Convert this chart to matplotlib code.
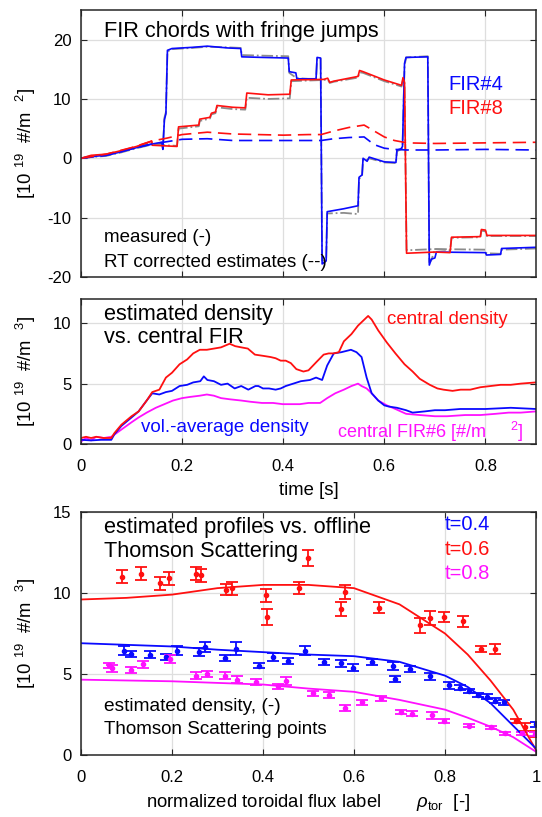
import matplotlib.pyplot as plt

plt.rcParams['font.family'] = ['Liberation Sans', 'DejaVu Sans']
plt.rcParams['mathtext.fontset'] = 'custom'
plt.rcParams['mathtext.rm'] = 'Liberation Sans'
plt.rcParams['mathtext.it'] = 'Liberation Sans:italic'
plt.rcParams['axes.unicode_minus'] = False

BLUE = '#0a0aff'
RED = '#ff1010'
MAG = '#ff10ff'
GRAY = '#8c8c8c'

# ---- panel 1: FIR chords with fringe jumps ----
fir4_t = [0.000, 0.020, 0.050, 0.080, 0.110, 0.140, 0.160, 0.162, 0.165, 0.168,
          0.171, 0.180, 0.220, 0.250, 0.290, 0.316, 0.318, 0.360, 0.410, 0.412,
          0.425, 0.427, 0.465, 0.467, 0.474, 0.477, 0.485, 0.487, 0.520, 0.548,
          0.550, 0.556, 0.558, 0.566, 0.570, 0.600, 0.623, 0.625, 0.633, 0.636,
          0.640, 0.643, 0.686, 0.689, 0.693, 0.700, 0.703, 0.800, 0.802, 0.830,
          0.832, 0.900]
fir4_meas = [0.0, 0.3, 0.5, 1.1, 1.8, 2.4, 2.7, 1.5, 6.5, 7.5,
             18.2, 18.5, 18.7, 18.9, 18.6, 18.5, 17.1, 17.0, 16.9, 14.6,
             14.4, 13.4, 13.4, 17.0, 16.9, -17.8, -17.3, -9.0, -8.5, -8.0,
             -3.2, -2.8, 0.0, -0.5, 0.2, -0.6, -0.7, 1.4, 1.6, 2.0,
             16.0, 17.0, 17.1, -18.0, -17.0, -16.8, -15.8, -15.9, -16.3, -16.2,
             -15.2, -15.0]
fir4_alt = [0.0, 0.2, 0.4, 1.0, 1.7, 2.3, 2.6, 1.6, 6.8, 7.8,
            18.0, 18.4, 18.6, 18.8, 18.7, 18.6, 17.4, 17.3, 17.2, 14.4,
            13.6, 13.5, 13.3, 16.8, 16.8, -17.5, -17.0, -9.3, -9.2, -9.4,
            -3.5, -3.0, -0.2, -0.3, 0.0, -0.7, -0.8, 1.2, 1.5, 1.8,
            15.5, 17.0, 17.2, -17.5, -17.2, -15.3, -15.3, -15.4, -16.0, -16.1,
            -15.4, -15.2]

fir8_t = [0.000, 0.020, 0.050, 0.080, 0.110, 0.140, 0.141, 0.190, 0.193, 0.233,
          0.235, 0.255, 0.258, 0.266, 0.269, 0.300, 0.325, 0.328, 0.370, 0.413,
          0.416, 0.480, 0.488, 0.492, 0.500, 0.548, 0.551, 0.558, 0.600, 0.634,
          0.637, 0.640, 0.644, 0.700, 0.730, 0.733, 0.790, 0.792, 0.800, 0.803,
          0.900]
fir8_meas = [0.0, 0.5, 0.7, 1.3, 2.0, 2.9, 2.2, 2.0, 5.3, 5.6,
             6.6, 6.9, 7.6, 7.8, 8.9, 8.6, 8.5, 11.0, 10.7, 10.8,
             13.2, 13.3, 13.5, 12.8, 13.0, 13.8, 14.8, 14.6, 13.2, 12.3,
             13.6, 12.8, -16.0, -15.8, -15.9, -13.3, -13.2, -12.0, -12.1, -13.0,
             -13.0]
fir8_alt = [0.0, 0.4, 0.6, 1.2, 1.9, 2.7, 2.3, 2.1, 5.0, 5.4,
            6.3, 6.7, 7.4, 7.6, 8.6, 8.3, 8.2, 10.2, 10.0, 10.1,
            13.0, 13.2, 13.3, 12.7, 12.9, 13.6, 14.5, 14.4, 13.0, 12.1,
            13.2, 12.6, -15.5, -15.3, -15.5, -13.4, -13.3, -12.2, -12.3, -13.1,
            -13.1]

corr_t = [0.0, 0.05, 0.1, 0.14, 0.17, 0.2, 0.25, 0.3, 0.35, 0.4, 0.45,
          0.475, 0.5, 0.53, 0.56, 0.58, 0.6, 0.62, 0.645, 0.7, 0.8, 0.9]
fir4_corr = [0.0, 0.5, 1.6, 2.4, 2.8, 3.2, 3.3, 3.0, 3.0, 3.0, 3.0,
             3.0, 3.3, 3.5, 3.6, 2.3, 1.7, 1.5, 1.4, 1.4, 1.5, 1.4]
fir8_corr = [0.0, 0.7, 1.8, 2.9, 3.4, 4.0, 4.4, 4.1, 4.0, 3.9, 4.0,
             4.0, 4.6, 5.2, 5.6, 4.6, 3.6, 3.0, 2.6, 2.5, 2.6, 2.7]

# ---- panel 2: estimated density vs central FIR ----
ne0_t = [0, 0.01, 0.02, 0.03, 0.045, 0.06, 0.066, 0.08, 0.1, 0.114,
         0.13, 0.141, 0.155, 0.168, 0.18, 0.195, 0.21, 0.222, 0.235, 0.249,
         0.263, 0.277, 0.294, 0.305, 0.317, 0.33, 0.344, 0.36, 0.375, 0.385,
         0.395, 0.405, 0.415, 0.426, 0.44, 0.45, 0.466, 0.48, 0.49, 0.5,
         0.51, 0.52, 0.535, 0.548, 0.558, 0.568, 0.575, 0.588, 0.605, 0.622,
         0.64, 0.656, 0.67, 0.69, 0.705, 0.717, 0.735, 0.751, 0.77, 0.79,
         0.81, 0.83, 0.85, 0.87, 0.9]
ne0 = [0.5, 0.6, 0.5, 0.6, 0.5, 0.5, 0.9, 1.6, 2.3, 2.7,
       3.6, 4.3, 4.5, 5.5, 5.9, 6.6, 7.0, 7.5, 7.8, 7.8,
       7.9, 8.0, 8.3, 8.1, 8.0, 7.9, 7.4, 7.3, 7.2, 7.1,
       6.9, 6.9, 6.7, 6.2, 6.0, 6.1, 6.8, 7.4, 7.5, 7.5,
       7.6, 8.5, 9.1, 9.8, 10.2, 10.6, 10.3, 9.4, 8.4, 7.5,
       6.6, 6.0, 5.4, 4.9, 4.6, 4.5, 4.4, 4.5, 4.5, 4.7,
       4.8, 4.9, 4.9, 5.0, 5.1]

nav_t = [0, 0.02, 0.04, 0.06, 0.066, 0.08, 0.1, 0.114, 0.13, 0.141,
         0.155, 0.168, 0.18, 0.195, 0.21, 0.222, 0.236, 0.243, 0.25, 0.263,
         0.277, 0.29, 0.304, 0.317, 0.331, 0.345, 0.351, 0.36, 0.372, 0.385,
         0.395, 0.405, 0.42, 0.435, 0.453, 0.465, 0.477, 0.487, 0.5, 0.515,
         0.534, 0.545, 0.555, 0.565, 0.575, 0.588, 0.6, 0.609, 0.625, 0.643,
         0.656, 0.68, 0.7, 0.72, 0.75, 0.8, 0.85, 0.9]
nav = [0.35, 0.3, 0.35, 0.35, 0.8, 1.5, 2.2, 2.7, 3.6, 4.2,
       4.1, 4.3, 4.4, 4.8, 4.9, 5.1, 5.2, 5.6, 5.3, 5.2,
       4.9, 5.0, 4.6, 4.8, 4.5, 4.8, 4.8, 4.6, 4.6, 4.5,
       4.6, 4.8, 5.0, 5.2, 5.3, 5.5, 5.3, 6.5, 7.5, 7.6,
       7.8, 7.6, 7.2, 5.5, 4.2, 3.6, 3.2, 3.1, 3.0, 2.8,
       2.6, 2.7, 2.8, 2.8, 2.9, 2.9, 3.0, 2.9]

fir6_t = [0, 0.01, 0.02, 0.03, 0.045, 0.06, 0.08, 0.1, 0.114, 0.13,
          0.148, 0.165, 0.182, 0.2, 0.216, 0.235, 0.249, 0.263, 0.277, 0.295,
          0.317, 0.335, 0.358, 0.38, 0.399, 0.415, 0.433, 0.45, 0.473, 0.487,
          0.503, 0.52, 0.535, 0.548, 0.555, 0.565, 0.575, 0.588, 0.605, 0.622,
          0.643, 0.67, 0.7, 0.724, 0.76, 0.79, 0.82, 0.846, 0.87, 0.9]
fir6 = [0.2, 0.5, 0.3, 0.6, 0.5, 0.6, 1.2, 1.8, 2.2, 2.6,
        3.0, 3.3, 3.6, 3.8, 3.9, 4.0, 4.1, 4.0, 3.8, 3.7,
        3.6, 3.5, 3.4, 3.4, 3.3, 3.3, 3.3, 3.4, 3.4, 3.8,
        4.2, 4.5, 4.8, 5.0, 4.8, 4.6, 4.2, 3.6, 3.2, 2.9,
        2.5, 2.4, 2.3, 2.3, 2.4, 2.4, 2.5, 2.6, 2.6, 2.7]

# ---- panel 3: profiles vs Thomson scattering ----
rho = [0.0, 0.1, 0.2, 0.3, 0.4, 0.5, 0.6, 0.7, 0.8, 0.85, 0.9, 0.95, 1.0]
prof_04 = [6.9, 6.8, 6.7, 6.5, 6.35, 6.2, 6.1, 5.75, 4.9, 4.2, 3.2, 1.8, 0.4]
prof_06 = [9.6, 9.7, 9.9, 10.3, 10.5, 10.5, 10.3, 9.3, 7.5, 6.2, 4.6, 2.8, 0.3]
prof_08 = [4.65, 4.6, 4.55, 4.45, 4.35, 4.1, 3.9, 3.4, 2.8, 2.3, 1.75, 1.1, 0.2]

ts04_rho = [0.095, 0.109, 0.152, 0.187, 0.212, 0.259, 0.272, 0.316, 0.34, 0.392,
            0.422, 0.454, 0.492, 0.534, 0.571, 0.597, 0.639, 0.686, 0.69, 0.723,
            0.766, 0.808, 0.834, 0.853, 0.872, 0.893, 0.91, 0.93, 1.0]
ts04 = [6.45, 6.25, 6.2, 6.05, 6.45, 6.35, 6.65, 6.0, 6.55, 5.5,
        6.05, 5.8, 6.45, 5.75, 5.65, 5.4, 5.75, 5.5, 4.7, 5.3,
        4.85, 4.3, 4.15, 3.95, 3.7, 3.6, 3.35, 3.25, 1.9]
ts04_err = [0.25, 0.2, 0.2, 0.2, 0.25, 0.25, 0.3, 0.2, 0.4, 0.15,
            0.25, 0.2, 0.3, 0.2, 0.2, 0.2, 0.2, 0.25, 0.2, 0.2,
            0.2, 0.2, 0.15, 0.15, 0.15, 0.15, 0.15, 0.15, 0.15]

ts06_rho = [0.091, 0.131, 0.173, 0.194, 0.253, 0.264, 0.318, 0.333, 0.406, 0.409,
            0.48, 0.498, 0.571, 0.581, 0.654, 0.744, 0.766, 0.798, 0.839, 0.88,
            0.91, 0.955, 0.976, 1.0]
ts06 = [11.0, 11.2, 10.6, 10.9, 11.2, 11.1, 10.2, 10.3, 9.85, 8.5,
        10.3, 12.15, 9.0, 10.05, 9.1, 8.0, 8.45, 8.5, 8.25, 6.55,
        6.55, 2.1, 1.75, 1.3]
ts06_err = [0.4, 0.4, 0.4, 0.4, 0.4, 0.4, 0.35, 0.4, 0.4, 0.5,
            0.35, 0.5, 0.45, 0.45, 0.35, 0.45, 0.45, 0.3, 0.35, 0.2,
            0.3, 0.1, 0.25, 0.2]

ts08_rho = [0.061, 0.068, 0.111, 0.136, 0.196, 0.253, 0.277, 0.316, 0.343, 0.384,
            0.432, 0.451, 0.511, 0.545, 0.581, 0.617, 0.659, 0.703, 0.728, 0.772,
            0.798, 0.853, 0.901, 0.933, 0.97, 0.998]
ts08 = [5.55, 5.35, 5.25, 5.6, 5.9, 4.9, 5.0, 4.9, 4.65, 4.5,
        4.25, 4.55, 3.8, 3.7, 2.9, 3.25, 3.5, 2.65, 2.55, 2.45,
        2.1, 1.8, 1.7, 1.35, 1.35, 1.3]
ts08_err = [0.15, 0.2, 0.2, 0.2, 0.25, 0.2, 0.2, 0.2, 0.2, 0.2,
            0.15, 0.25, 0.15, 0.2, 0.2, 0.15, 0.15, 0.15, 0.15, 0.2,
            0.15, 0.1, 0.1, 0.1, 0.1, 0.1]

time_ticks = [0, 0.2, 0.4, 0.6, 0.8]
time_labels = ['0', '0.2', '0.4', '0.6', '0.8']
rho_ticks = [0, 0.2, 0.4, 0.6, 0.8, 1.0]
rho_labels = ['0', '0.2', '0.4', '0.6', '0.8', '1']

TITLE = 15.7   # panel headings
TXT = 13.5     # other annotations
LBL = 13.3


def style(ax):
    ax.grid(True, color='#dedede', lw=0.9)
    ax.set_axisbelow(True)
    ax.tick_params(direction='in', length=4, width=0.8, top=True, right=True,
                   labelsize=12, color='#262626')
    ax.tick_params(axis='x', pad=10.5)
    ax.tick_params(axis='y', pad=7)
    for s in ax.spines.values():
        s.set_color('#262626')
        s.set_linewidth(1.1)


fig = plt.figure(figsize=(5.42, 8.17), dpi=100)
ax1 = fig.add_axes([0.1494, 0.6610, 0.8395, 0.3268])
ax2 = fig.add_axes([0.1494, 0.4565, 0.8395, 0.1775])
ax3 = fig.add_axes([0.1494, 0.0759, 0.8395, 0.2974])

# panel 1
ax1.plot(fir4_t, fir4_alt, color=GRAY, ls='-.', lw=1.3)
ax1.plot(fir8_t, fir8_alt, color=GRAY, ls='-.', lw=1.3)
ax1.plot(fir4_t, fir4_meas, color=BLUE, lw=1.2)
ax1.plot(fir8_t, fir8_meas, color=RED, lw=1.2)
ax1.plot(corr_t, fir4_corr, color=BLUE, lw=1.2, dashes=(8, 4))
ax1.plot(corr_t, fir8_corr, color=RED, lw=1.2, dashes=(8, 4))
ax1.set_xlim(0, 0.9)
ax1.set_ylim(-20, 25)
ax1.set_xticks(time_ticks)
ax1.set_xticklabels([])
ax1.set_yticks([-20, -10, 0, 10, 20])
ax1.set_ylabel('[10 $^{19}$  #/m  $^{2}$]', fontsize=LBL)
ax1.text(0.045, 21.4, 'FIR chords with fringe jumps', fontsize=TITLE, va='center')
ax1.text(0.726, 12.4, 'FIR#4', color=BLUE, fontsize=14.5, va='center')
ax1.text(0.726, 8.4, 'FIR#8', color=RED, fontsize=14.5, va='center')
ax1.text(0.045, -13.4, 'measured (-)', fontsize=TXT, va='center')
ax1.text(0.045, -17.6, 'RT corrected estimates (--)', fontsize=TXT, va='center')

# panel 2
ax2.plot(fir6_t, fir6, color=MAG, lw=1.3)
ax2.plot(nav_t, nav, color=BLUE, lw=1.3)
ax2.plot(ne0_t, ne0, color=RED, lw=1.3)
ax2.set_xlim(0, 0.9)
ax2.set_ylim(0, 12)
ax2.set_xticks(time_ticks)
ax2.set_xticklabels(time_labels)
ax2.set_yticks([0, 5, 10])
ax2.set_xlabel('time [s]', fontsize=LBL, labelpad=6)
ax2.set_ylabel('[10 $^{19}$  #/m  $^{3}$]', fontsize=LBL)
ax2.text(0.045, 10.7, 'estimated density', fontsize=TITLE, va='center')
ax2.text(0.045, 8.8, 'vs. central FIR', fontsize=TITLE, va='center')
ax2.text(0.605, 10.3, 'central density', color=RED, fontsize=TXT, va='center')
ax2.text(0.118, 1.4, 'vol.-average density', color=BLUE, fontsize=TXT, va='center')
ax2.text(0.506, 1.0, 'central FIR#6 [#/m     $^{2}$]', color=MAG, fontsize=TXT - 0.5,
         va='center')

# panel 3
for r, y, e, c in [(ts06_rho, ts06, ts06_err, RED), (ts04_rho, ts04, ts04_err, BLUE),
                   (ts08_rho, ts08, ts08_err, MAG)]:
    ax3.errorbar(r, y, yerr=e, fmt='.', color=c, ms=6, capsize=4.3,
                 elinewidth=1.3, capthick=1.3)
ax3.plot(rho, prof_06, color=RED, lw=1.3)
ax3.plot(rho, prof_04, color=BLUE, lw=1.3)
ax3.plot(rho, prof_08, color=MAG, lw=1.3)
ax3.set_xlim(0, 1)
ax3.set_ylim(0, 15)
ax3.set_xticks(rho_ticks)
ax3.set_xticklabels(rho_labels)
ax3.set_yticks([0, 5, 10, 15])
ax3.set_xlabel('normalized toroidal flux label       $\\rho_{\\rm tor}$  [-]',
               fontsize=LBL, labelpad=5)
ax3.set_ylabel('[10 $^{19}$  #/m  $^{3}$]', fontsize=LBL)
ax3.text(0.051, 14.05, 'estimated profiles vs. offline', fontsize=TITLE, va='center')
ax3.text(0.051, 12.55, 'Thomson Scattering', fontsize=TITLE, va='center')
ax3.text(0.80, 14.2, 't=0.4', color=BLUE, fontsize=14.5, va='center')
ax3.text(0.80, 12.7, 't=0.6', color=RED, fontsize=14.5, va='center')
ax3.text(0.80, 11.2, 't=0.8', color=MAG, fontsize=14.5, va='center')
ax3.text(0.051, 2.97, 'estimated density, (-)', fontsize=TXT + 0.3, va='center')
ax3.text(0.051, 1.57, 'Thomson Scattering points', fontsize=TXT, va='center')

for ax in (ax1, ax2, ax3):
    style(ax)
    ax.yaxis.set_label_coords(-0.095, 0.5)

fig.savefig('out.png', dpi=100)
